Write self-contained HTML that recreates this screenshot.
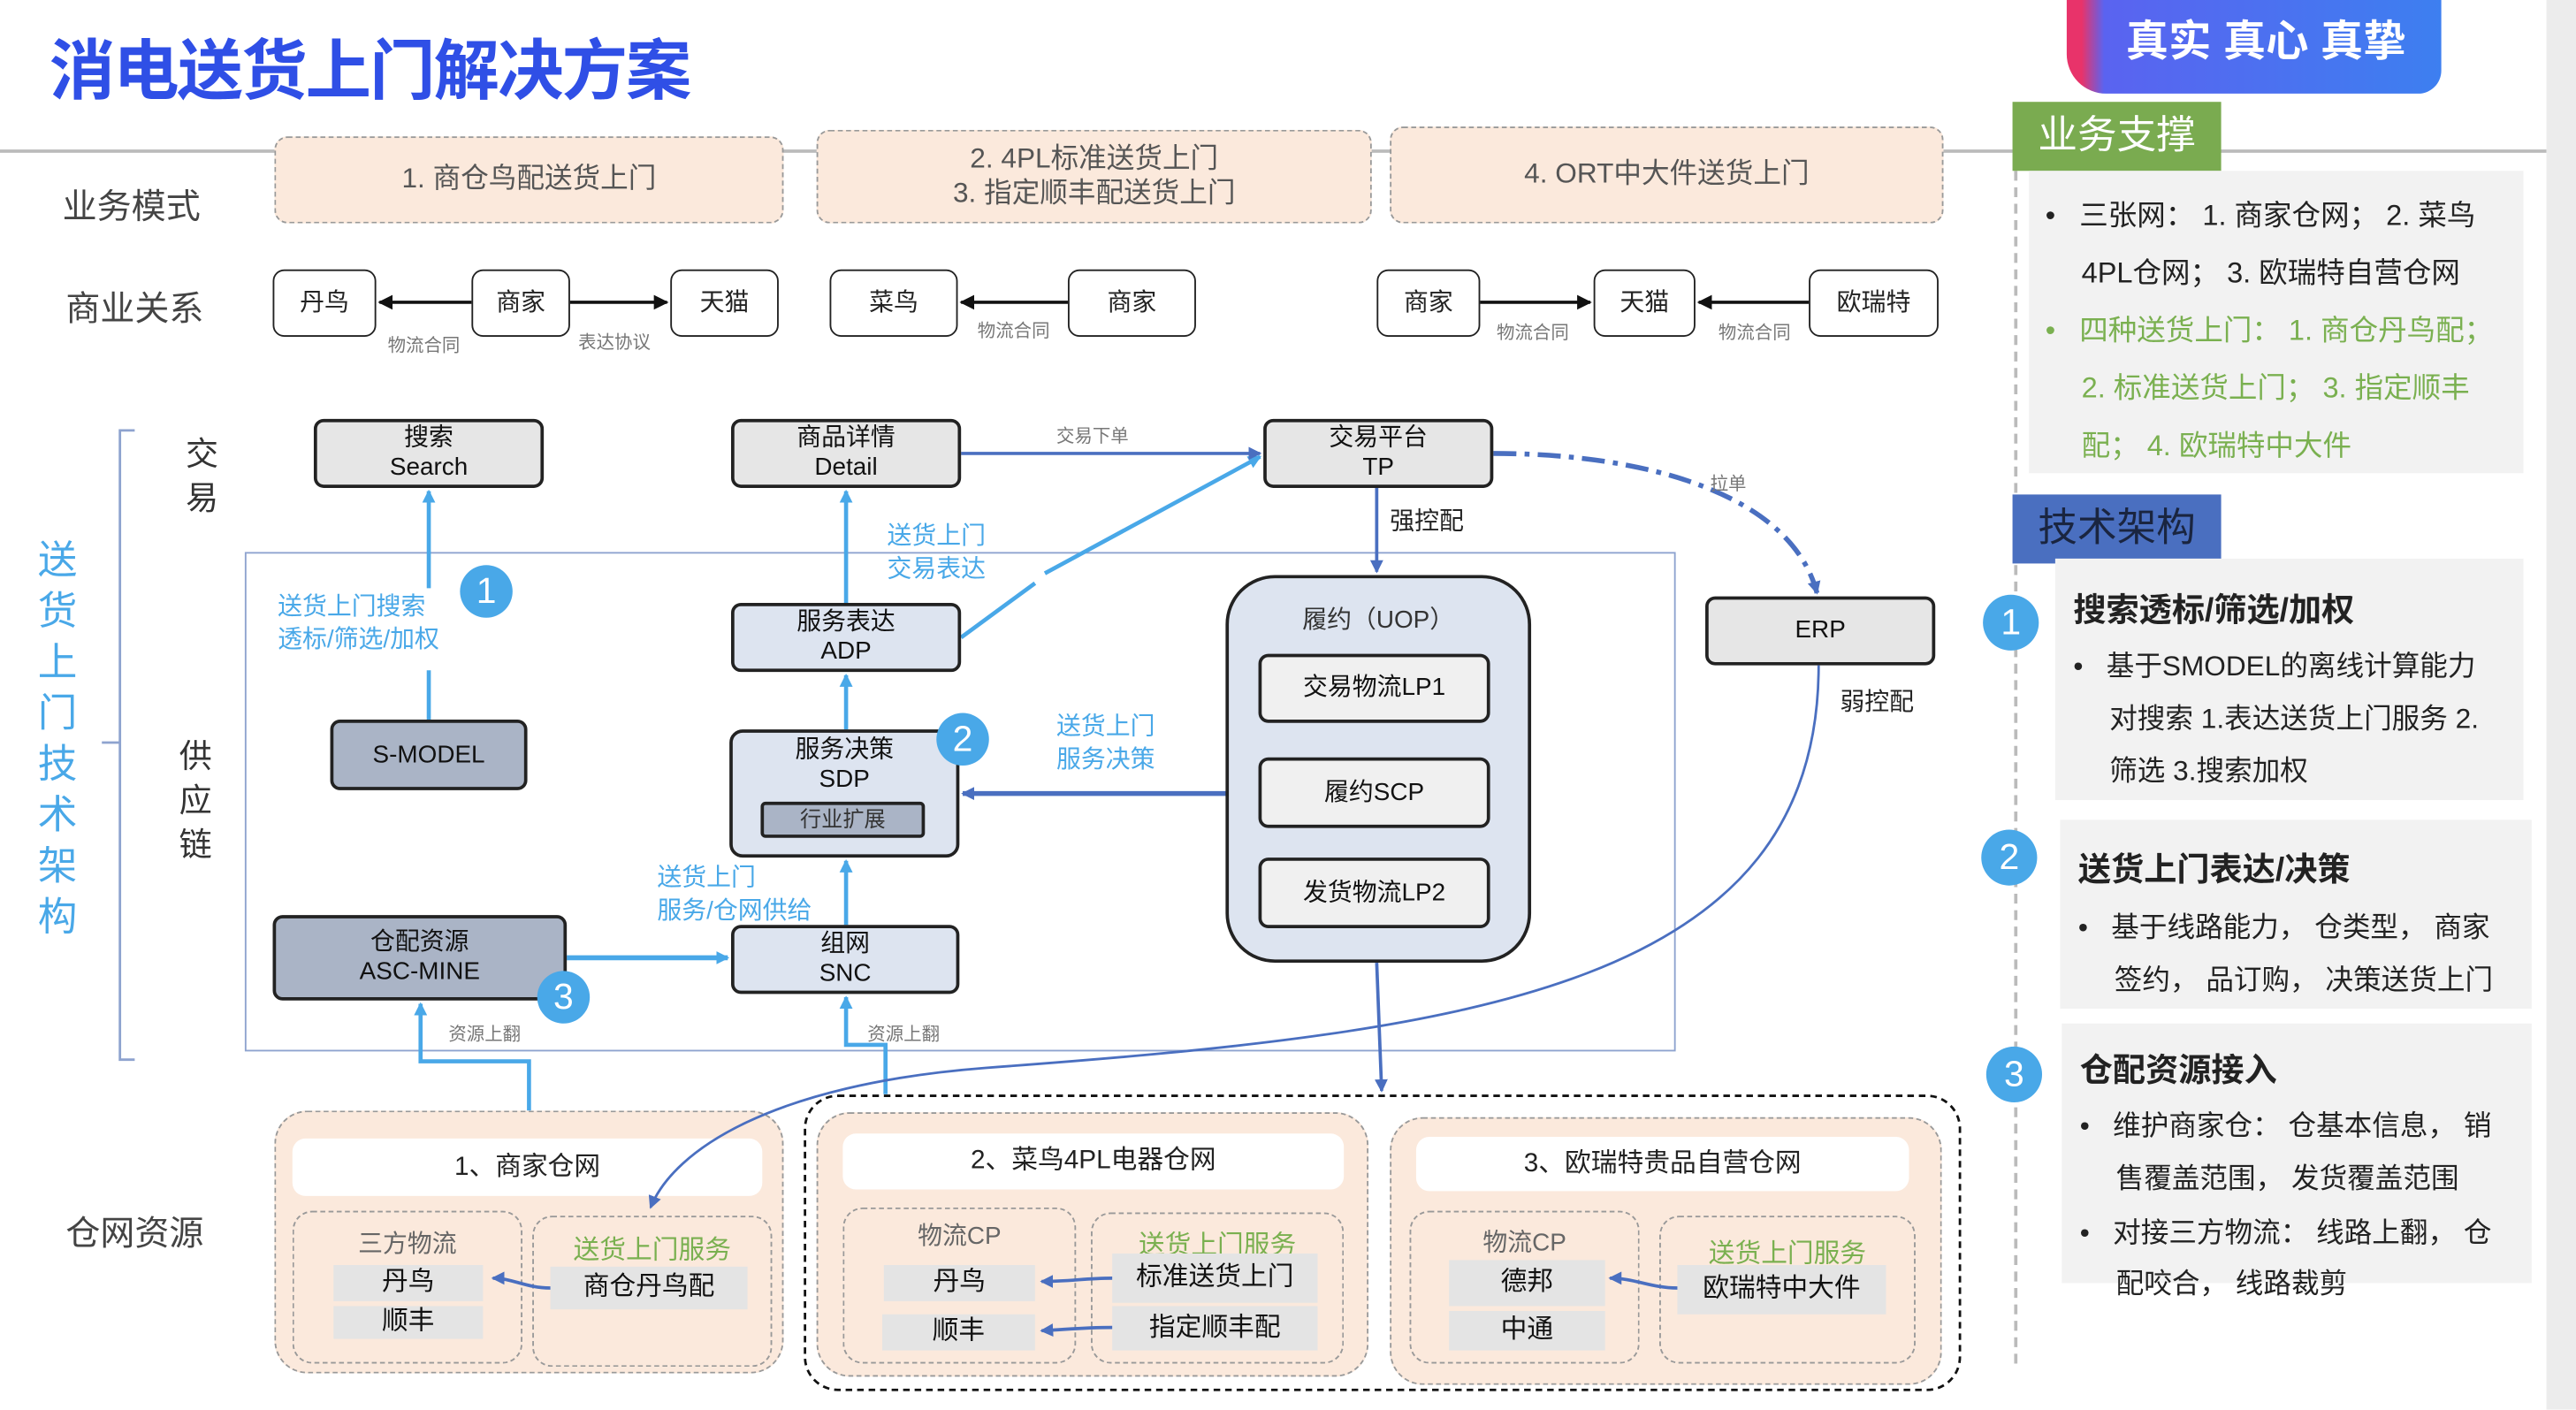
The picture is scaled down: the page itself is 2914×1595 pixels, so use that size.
<!DOCTYPE html>
<html><head><meta charset="utf-8"><style>
*{margin:0;padding:0;box-sizing:border-box}
body{width:2914px;height:1594px;overflow:hidden;background:#fff;font-family:"Liberation Sans","Noto Sans CJK SC",sans-serif}
#c{position:absolute;left:0;top:0;width:1568px;height:858px;transform:scale(1.85842);transform-origin:0 0;background:#fff}
.a{position:absolute}
.b{position:absolute;display:flex;align-items:center;justify-content:center;text-align:center;line-height:1.2}
.mode{background:#fbe9dc;border:1.5px dashed #999;border-radius:8px;color:#555;font-size:17px}
.rel{background:#fff;border:1.5px solid #222;border-radius:7px;font-size:15px;color:#222}
.sm{position:absolute;font-size:11px;color:#777}
.node{border:2px solid #222;border-radius:6px;font-size:15px;color:#111}
.g{background:#e6e6e6}.d{background:#aab4c6}.l{background:#dde4f0}.w{background:#f0f0f0}
.blue{color:#49a8e8;font-size:15px;line-height:1.3}
.pan{background:#fbe9dc;border:1.5px dashed #999;border-radius:20px}
.sub{border:1.5px dashed #999;border-radius:12px}
.tb{background:#fff;border-radius:8px;font-size:16px;color:#222}
.chip{background:#e4e4e4;font-size:16px;color:#111}
.grn{color:#7ab050;font-size:16px}
.circ{position:absolute;border-radius:50%;background:#49a8e8;color:#fff;display:flex;align-items:center;justify-content:center;font-size:22px}
.rp{background:#f2f2f2}
.rt{position:absolute;font-size:17.5px;color:#222;white-space:nowrap}
</style></head><body><div id="c">
<div class="a" style="left:0;top:91px;width:1550px;height:2px;background:#bbb"></div>
<div class="a" style="left:1550px;top:0;width:18px;height:858px;background:#ececec"></div>
<div class="a" style="left:30px;top:11px;font-size:40px;font-weight:bold;color:#2f4fe6;letter-spacing:-1px">消电送货上门解决方案</div>
<div class="a" style="left:1258px;top:-10px;width:228px;height:67px;border-radius:0 0 14px 24px;background:linear-gradient(90deg,#e8336a 0,#e8336a 4%,#5a63f0 10%,#3d7ff0 100%)"></div>
<div class="a" style="left:1294px;top:5px;font-size:26px;color:#fff;font-weight:bold">真实 真心 真挚</div>

<div class="a" style="left:38px;top:110px;font-size:21px;color:#444">业务模式</div>
<div class="a" style="left:40px;top:172px;font-size:21px;color:#444">商业关系</div>
<div class="a" style="left:40px;top:735px;font-size:21px;color:#444">仓网资源</div>

<div class="b mode" style="left:167px;top:83px;width:310px;height:53px">1. 商仓鸟配送货上门</div>
<div class="b mode" style="left:497px;top:79px;width:338px;height:57px">2. 4PL标准送货上门<br>3. 指定顺丰配送货上门</div>
<div class="b mode" style="left:846px;top:77px;width:337px;height:59px">4. ORT中大件送货上门</div>

<div class="b rel" style="left:166px;top:164px;width:63px;height:41px">丹鸟</div>
<div class="b rel" style="left:287px;top:164px;width:60px;height:41px">商家</div>
<div class="b rel" style="left:408px;top:164px;width:66px;height:41px">天猫</div>
<div class="b rel" style="left:505px;top:164px;width:78px;height:41px">菜鸟</div>
<div class="b rel" style="left:650px;top:164px;width:78px;height:41px">商家</div>
<div class="b rel" style="left:838px;top:164px;width:63px;height:41px">商家</div>
<div class="b rel" style="left:970px;top:164px;width:62px;height:41px">天猫</div>
<div class="b rel" style="left:1101px;top:164px;width:79px;height:41px">欧瑞特</div>
<div class="sm" style="left:236px;top:202px">物流合同</div>
<div class="sm" style="left:352px;top:200px">表达协议</div>
<div class="sm" style="left:595px;top:193px">物流合同</div>
<div class="sm" style="left:911px;top:194px">物流合同</div>
<div class="sm" style="left:1046px;top:194px">物流合同</div>

<div class="a" style="left:22px;top:326px;width:26px;font-size:24px;line-height:31px;color:#49a8e8;text-align:center">送货上门技术架构</div>
<div class="a" style="left:113px;top:264px;font-size:20px;line-height:27px;color:#333;width:22px">交易</div>
<div class="a" style="left:109px;top:448px;font-size:20px;line-height:27px;color:#333;width:22px">供应链</div>

<div class="a" style="left:149px;top:336px;width:871px;height:304px;border:1.2px solid #8ea3cf"></div>

<svg class="a" style="left:0;top:0" width="1568" height="858" viewBox="0 0 1568 858">
<defs>
<marker id="ab" markerWidth="8" markerHeight="8" refX="7" refY="4" orient="auto" markerUnits="userSpaceOnUse"><path d="M0,0 L8,4 L0,8 z" fill="#49a8e8"/></marker>
<marker id="ad" markerWidth="8" markerHeight="8" refX="7" refY="4" orient="auto" markerUnits="userSpaceOnUse"><path d="M0,0 L8,4 L0,8 z" fill="#4a6fc0"/></marker>
<marker id="ak" markerWidth="9" markerHeight="9" refX="8" refY="4.5" orient="auto" markerUnits="userSpaceOnUse"><path d="M0,0 L9,4.5 L0,9 z" fill="#111"/></marker>
</defs>
<g stroke="#111" stroke-width="2" fill="none">
<line x1="287" y1="184" x2="231" y2="184" marker-end="url(#ak)"/>
<line x1="347" y1="184" x2="406" y2="184" marker-end="url(#ak)"/>
<line x1="650" y1="184" x2="585" y2="184" marker-end="url(#ak)"/>
<line x1="901" y1="184" x2="968" y2="184" marker-end="url(#ak)"/>
<line x1="1101" y1="184" x2="1034" y2="184" marker-end="url(#ak)"/>
</g>
<g stroke="#8ea3cf" stroke-width="1.5" fill="none">
<path d="M82,262 L73,262 L73,645 L82,645 M73,452 L62,452"/>
</g>
<g stroke="#49a8e8" stroke-width="2.5" fill="none">
<line x1="261" y1="438" x2="261" y2="408"/>
<line x1="261" y1="358" x2="261" y2="299" marker-end="url(#ab)"/>
<line x1="515" y1="367" x2="515" y2="299" marker-end="url(#ab)"/>
<line x1="585" y1="388" x2="630" y2="355"/>
<line x1="636" y1="349" x2="767" y2="278" marker-end="url(#ab)"/>
<line x1="515" y1="444" x2="515" y2="411" marker-end="url(#ab)"/>
<line x1="515" y1="563" x2="515" y2="524" marker-end="url(#ab)"/>
<line x1="345" y1="583" x2="443" y2="583" stroke-width="3" marker-end="url(#ab)"/>
<path d="M322,676 L322,646 L256,646 L256,611" marker-end="url(#ab)"/>
<path d="M539,666 L539,636 L515,636 L515,607" marker-end="url(#ab)"/>
</g>
<g stroke="#4a6fc0" stroke-width="2" fill="none">
<line x1="585" y1="276" x2="767" y2="276" marker-end="url(#ad)"/>
<line x1="838" y1="297" x2="838" y2="348" marker-end="url(#ad)"/>
<line x1="766" y1="483" x2="586" y2="483" stroke-width="3" marker-end="url(#ad)"/>
<line x1="836" y1="440" x2="836" y2="459" marker-end="url(#ad)"/>
<line x1="836" y1="504" x2="836" y2="520" marker-end="url(#ad)"/>
<line x1="838" y1="586" x2="841" y2="664" marker-end="url(#ad)"/>
<path d="M909,276 C1000,276 1090,300 1106,361" stroke-width="3" stroke-dasharray="14,5,3,5" marker-end="url(#ad)"/>
</g>
<rect x="490" y="667" width="703" height="179" rx="20" fill="none" stroke="#111" stroke-width="1.5" stroke-dasharray="4,3"/>
</svg>

<div class="sm" style="left:643px;top:257px">交易下单</div>
<div class="a" style="left:846px;top:306px;font-size:15px;color:#222">强控配</div>
<div class="sm" style="left:1041px;top:286px">拉单</div>
<div class="a" style="left:1120px;top:416px;font-size:15px;color:#222">弱控配</div>
<div class="sm" style="left:273px;top:621px">资源上翻</div>
<div class="sm" style="left:528px;top:621px">资源上翻</div>
<div class="a blue" style="left:169px;top:360px">送货上门搜索<br>透标/筛选/加权</div>
<div class="a blue" style="left:540px;top:317px">送货上门<br>交易表达</div>
<div class="a blue" style="left:643px;top:433px">送货上门<br>服务决策</div>
<div class="a blue" style="left:400px;top:525px">送货上门<br>服务/仓网供给</div>

<div class="b node g" style="left:191px;top:255px;width:140px;height:42px">搜索<br>Search</div>
<div class="b node g" style="left:445px;top:255px;width:140px;height:42px">商品详情<br>Detail</div>
<div class="b node g" style="left:769px;top:255px;width:140px;height:42px">交易平台<br>TP</div>
<div class="b node g" style="left:1038px;top:363px;width:140px;height:42px">ERP</div>
<div class="b node d" style="left:201px;top:438px;width:120px;height:43px">S-MODEL</div>
<div class="b node l" style="left:445px;top:367px;width:140px;height:42px">服务表达<br>ADP</div>
<div class="a node l" style="left:444px;top:444px;width:140px;height:78px;border-radius:8px"></div>
<div class="b" style="left:444px;top:446px;width:140px;height:40px;font-size:15px;color:#111">服务决策<br>SDP</div>
<div class="b node d" style="left:463px;top:488px;width:100px;height:22px;font-size:13px;color:#333;border-radius:3px">行业扩展</div>
<div class="b node d" style="left:166px;top:557px;width:179px;height:52px">仓配资源<br>ASC-MINE</div>
<div class="b node l" style="left:445px;top:563px;width:139px;height:42px">组网<br>SNC</div>
<div class="a node l" style="left:746px;top:350px;width:186px;height:236px;border-radius:30px"></div>
<div class="a" style="left:746px;top:366px;width:186px;text-align:center;font-size:15px;color:#333">履约（UOP）</div>
<div class="b node w" style="left:766px;top:398px;width:141px;height:42px">交易物流LP1</div>
<div class="b node w" style="left:766px;top:461px;width:141px;height:43px">履约SCP</div>
<div class="b node w" style="left:766px;top:522px;width:141px;height:43px">发货物流LP2</div>
<div class="circ" style="left:280px;top:344px;width:32px;height:32px">1</div>
<div class="circ" style="left:570px;top:434px;width:32px;height:32px">2</div>
<div class="circ" style="left:327px;top:591px;width:32px;height:32px">3</div>

<!-- bottom panels -->
<div class="a pan" style="left:167px;top:676px;width:310px;height:160px"></div>
<div class="b tb" style="left:178px;top:693px;width:286px;height:35px">1、商家仓网</div>
<div class="a sub" style="left:178px;top:737px;width:140px;height:93px"></div>
<div class="a" style="left:178px;top:746px;width:140px;text-align:center;font-size:15px;color:#666">三方物流</div>
<div class="b chip" style="left:203px;top:770px;width:91px;height:22px">丹鸟</div>
<div class="b chip" style="left:203px;top:795px;width:91px;height:20px">顺丰</div>
<div class="a sub" style="left:324px;top:740px;width:146px;height:92px"></div>
<div class="a grn" style="left:324px;top:747px;width:146px;text-align:center">送货上门服务</div>
<div class="b chip" style="left:335px;top:771px;width:120px;height:26px">商仓丹鸟配</div>

<div class="a pan" style="left:497px;top:677px;width:336px;height:161px"></div>
<div class="b tb" style="left:513px;top:690px;width:305px;height:34px">2、菜鸟4PL电器仓网</div>
<div class="a sub" style="left:513px;top:735px;width:142px;height:95px"></div>
<div class="a" style="left:513px;top:741px;width:142px;text-align:center;font-size:15px;color:#666">物流CP</div>
<div class="b chip" style="left:538px;top:770px;width:92px;height:22px">丹鸟</div>
<div class="b chip" style="left:537px;top:800px;width:93px;height:22px">顺丰</div>
<div class="a sub" style="left:664px;top:738px;width:154px;height:92px"></div>
<div class="a grn" style="left:664px;top:744px;width:154px;text-align:center">送货上门服务</div>
<div class="b chip" style="left:677px;top:763px;width:125px;height:30px">标准送货上门</div>
<div class="b chip" style="left:677px;top:795px;width:125px;height:27px">指定顺丰配</div>

<div class="a pan" style="left:846px;top:680px;width:336px;height:163px"></div>
<div class="b tb" style="left:862px;top:692px;width:300px;height:33px">3、欧瑞特贵品自营仓网</div>
<div class="a sub" style="left:858px;top:737px;width:140px;height:93px"></div>
<div class="a" style="left:858px;top:745px;width:140px;text-align:center;font-size:15px;color:#666">物流CP</div>
<div class="b chip" style="left:882px;top:767px;width:95px;height:28px">德邦</div>
<div class="b chip" style="left:882px;top:798px;width:95px;height:24px">中通</div>
<div class="a sub" style="left:1010px;top:740px;width:156px;height:90px"></div>
<div class="a grn" style="left:1010px;top:749px;width:156px;text-align:center">送货上门服务</div>
<div class="b chip" style="left:1021px;top:770px;width:127px;height:30px">欧瑞特中大件</div>

<svg class="a" style="left:0;top:0" width="1568" height="858" viewBox="0 0 1568 858">
<defs>
<marker id="ad2" markerWidth="8" markerHeight="8" refX="7" refY="4" orient="auto" markerUnits="userSpaceOnUse"><path d="M0,0 L8,4 L0,8 z" fill="#4a6fc0"/></marker>
</defs>
<g stroke="#4a6fc0" fill="none">
<path d="M1107,405 C1107,600 900,628 600,650 C470,660 410,700 396,735" stroke-width="1.5" marker-end="url(#ad2)"/>
<path d="M335,784 C320,784 312,778 300,778" stroke-width="2" marker-end="url(#ad2)"/>
<path d="M677,778 C660,778 652,780 634,780" stroke-width="2" marker-end="url(#ad2)"/>
<path d="M677,808 C660,808 652,809 634,810" stroke-width="2" marker-end="url(#ad2)"/>
<path d="M1021,784 C1005,784 995,778 980,778" stroke-width="2" marker-end="url(#ad2)"/>
</g>
</svg>

<!-- right panel -->
<div class="a" style="left:1226px;top:104px;height:726px;border-left:2px dashed #bbb"></div>
<div class="b" style="left:1225px;top:62px;width:127px;height:42px;background:#7aab50;color:#fff;font-size:24px">业务支撑</div>
<div class="a rp" style="left:1235px;top:104px;width:301px;height:184px"></div>
<div class="rt" style="left:1245px;top:118px">•&nbsp;&nbsp;&nbsp;三张网： 1. 商家仓网； 2. 菜鸟</div>
<div class="rt" style="left:1267px;top:153px">4PL仓网； 3. 欧瑞特自营仓网</div>
<div class="rt" style="left:1245px;top:188px;color:#7ab050">•&nbsp;&nbsp;&nbsp;四种送货上门： 1. 商仓丹鸟配；</div>
<div class="rt" style="left:1267px;top:223px;color:#7ab050">2. 标准送货上门； 3. 指定顺丰</div>
<div class="rt" style="left:1267px;top:258px;color:#7ab050">配； 4. 欧瑞特中大件</div>
<div class="b" style="left:1225px;top:301px;width:127px;height:42px;background:#4a6fc0;color:#1a2540;font-size:24px">技术架构</div>

<div class="a rp" style="left:1251px;top:340px;width:285px;height:147px"></div>
<div class="rt" style="left:1262px;top:355px;font-size:20px;font-weight:bold">搜索透标/筛选/加权</div>
<div class="rt" style="left:1262px;top:391px;font-size:17px">•&nbsp;&nbsp;&nbsp;基于SMODEL的离线计算能力</div>
<div class="rt" style="left:1284px;top:423px;font-size:17px">对搜索 1.表达送货上门服务 2.</div>
<div class="rt" style="left:1284px;top:455px;font-size:17px">筛选 3.搜索加权</div>
<div class="circ" style="left:1207px;top:362px;width:34px;height:34px">1</div>

<div class="a rp" style="left:1254px;top:499px;width:287px;height:115px"></div>
<div class="rt" style="left:1265px;top:513px;font-size:20px;font-weight:bold">送货上门表达/决策</div>
<div class="rt" style="left:1265px;top:550px;font-size:17px">•&nbsp;&nbsp;&nbsp;基于线路能力， 仓类型， 商家</div>
<div class="rt" style="left:1287px;top:582px;font-size:17px">签约， 品订购， 决策送货上门</div>
<div class="circ" style="left:1206px;top:505px;width:34px;height:34px">2</div>

<div class="a rp" style="left:1255px;top:623px;width:286px;height:158px"></div>
<div class="rt" style="left:1266px;top:635px;font-size:20px;font-weight:bold">仓配资源接入</div>
<div class="rt" style="left:1266px;top:671px;font-size:17px">•&nbsp;&nbsp;&nbsp;维护商家仓： 仓基本信息， 销</div>
<div class="rt" style="left:1288px;top:703px;font-size:17px">售覆盖范围， 发货覆盖范围</div>
<div class="rt" style="left:1266px;top:736px;font-size:17px">•&nbsp;&nbsp;&nbsp;对接三方物流： 线路上翻， 仓</div>
<div class="rt" style="left:1288px;top:767px;font-size:17px">配咬合， 线路裁剪</div>
<div class="circ" style="left:1209px;top:637px;width:34px;height:34px">3</div>
</div></body></html>
